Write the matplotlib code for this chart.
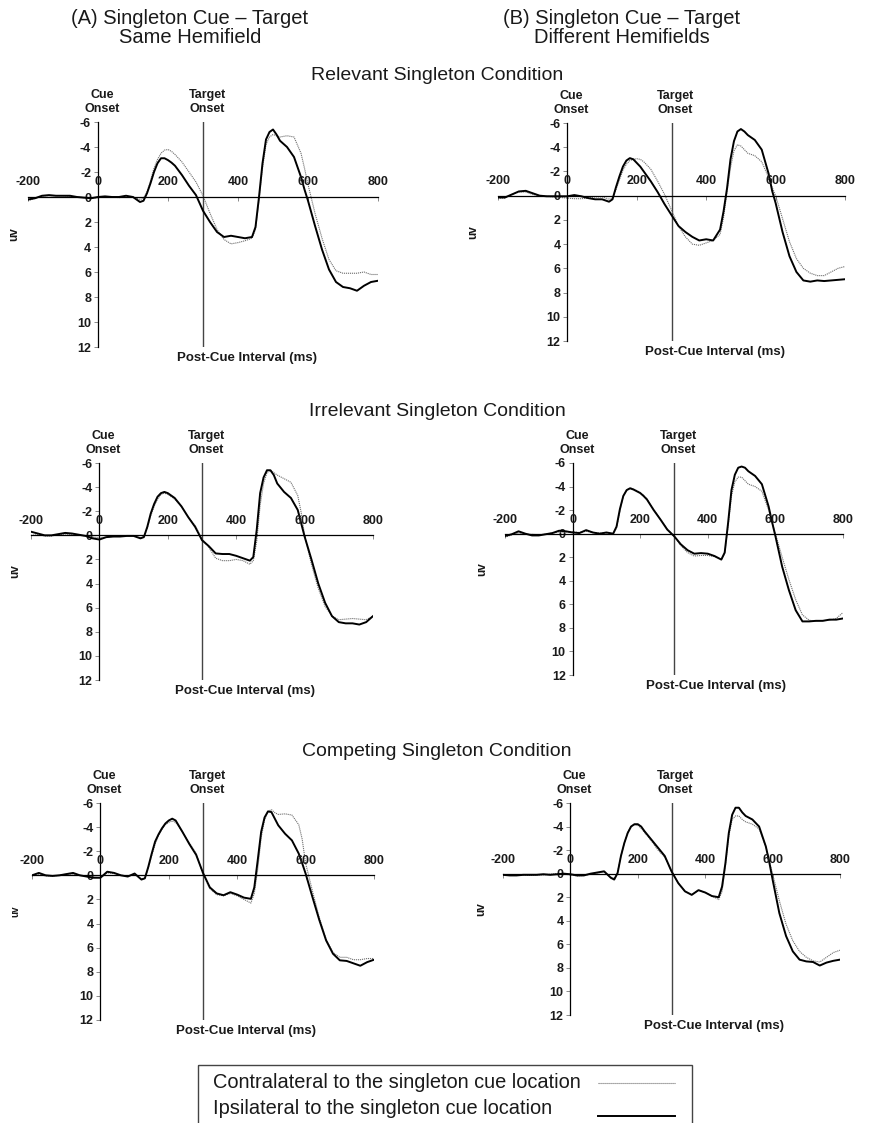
import matplotlib
matplotlib.use("Agg")
import matplotlib.pyplot as plt
from matplotlib.patches import Rectangle
from matplotlib.lines import Line2D

plt.rcParams['font.family'] = ['Liberation Sans', 'DejaVu Sans']
plt.rcParams['axes.unicode_minus'] = False

# time points (ms) shared by all waveforms
t_ms = [-200, -180, -160, -140, -120, -100, -80, -60, -40, -20, 0, 20, 40, 60, 80, 100,
        120, 130, 140, 150, 160, 170, 180, 190, 200, 210, 220, 240, 260, 280, 300, 320,
        340, 360, 380, 400, 420, 440, 450, 460, 470, 480, 490, 500, 510, 520, 540, 560,
        580, 590, 600, 620, 640, 660, 680, 700, 720, 740, 760, 780, 800]

# (A) same hemifield / (B) different hemifields; 1 relevant, 2 irrelevant, 3 competing
a1_ipsi = [0.2, 0.1, -0.1, -0.15, -0.1, -0.1, -0.1, 0.0, 0.05, 0.1, 0.0, -0.05, 0.0, 0.0, -0.1, 0.0,
           0.4, 0.3, -0.3, -1.1, -2.0, -2.7, -3.1, -3.1, -2.95, -2.75, -2.5, -1.75, -0.9, -0.15, 1.1, 2.0,
           2.8, 3.2, 3.1, 3.2, 3.3, 3.2, 2.4, 0.0, -2.7, -4.6, -5.2, -5.4, -5.0, -4.5, -4.0, -3.2,
           -1.6, -0.6, 0.3, 2.3, 4.2, 5.8, 6.8, 7.2, 7.3, 7.5, 7.1, 6.8, 6.7]
a1_contra = [0.3, 0.1, -0.05, -0.1, -0.1, -0.1, -0.05, 0.0, 0.05, 0.1, 0.05, 0.0, 0.0, 0.05, 0.0, 0.0,
             0.2, 0.1, -0.4, -1.3, -2.3, -3.0, -3.5, -3.75, -3.8, -3.65, -3.4, -2.8, -2.0, -1.2, -0.1, 1.3,
             2.6, 3.4, 3.75, 3.65, 3.5, 3.3, 2.6, 0.3, -2.3, -4.2, -4.8, -5.0, -4.9, -4.8, -4.9, -4.8,
             -3.5, -2.3, -1.0, 1.3, 3.3, 5.0, 5.9, 6.1, 6.1, 6.1, 6.0, 6.2, 6.2]
b1_ipsi = [0.15, 0.15, -0.1, -0.35, -0.4, -0.2, 0.0, 0.05, 0.05, 0.05, 0.05, -0.05, 0.05, 0.2, 0.3, 0.3,
           0.5, 0.3, -0.7, -1.6, -2.4, -2.9, -3.1, -3.0, -2.7, -2.4, -2.0, -1.2, -0.3, 0.7, 1.6, 2.5,
           3.0, 3.4, 3.7, 3.6, 3.7, 2.8, 1.3, -0.6, -3.0, -4.5, -5.3, -5.5, -5.3, -5.0, -4.6, -3.8,
           -1.8, -0.4, 0.6, 3.0, 5.0, 6.3, 7.0, 7.1, 7.0, 7.05, 7.0, 6.95, 6.9]
b1_contra = [0.2, 0.2, -0.1, -0.3, -0.3, -0.1, 0.0, 0.05, 0.1, 0.15, 0.2, 0.25, 0.25, 0.2, 0.1, 0.1,
             0.3, 0.2, -0.5, -1.3, -2.1, -2.6, -2.9, -3.0, -3.05, -3.0, -2.8, -2.2, -1.2, -0.1, 1.2, 2.5,
             3.4, 4.0, 4.1, 3.9, 3.7, 3.2, 1.8, -0.3, -2.3, -3.7, -4.2, -4.1, -3.8, -3.5, -3.3, -2.8,
             -1.5, -0.7, 0.0, 1.9, 3.8, 5.2, 6.0, 6.4, 6.6, 6.6, 6.3, 6.0, 5.85]
a2_ipsi = [-0.3, -0.15, 0.0, 0.0, -0.1, -0.2, -0.15, -0.05, 0.05, 0.25, 0.35, 0.15, 0.1, 0.1, 0.05, 0.05,
           0.25, 0.15, -0.7, -1.8, -2.6, -3.2, -3.5, -3.6, -3.5, -3.3, -3.1, -2.4, -1.5, -0.7, 0.4, 0.9,
           1.5, 1.55, 1.55, 1.7, 1.9, 2.1, 1.8, -0.45, -3.5, -4.8, -5.4, -5.4, -5.0, -4.3, -3.6, -3.1,
           -2.1, -1.0, 0.1, 2.0, 4.0, 5.6, 6.7, 7.2, 7.3, 7.3, 7.4, 7.2, 6.7]
a2_contra = [0.0, -0.05, 0.05, 0.05, -0.05, -0.1, -0.05, 0.0, 0.05, 0.15, 0.2, 0.15, 0.1, 0.05, 0.05, 0.05,
             0.2, 0.1, -0.6, -1.6, -2.4, -3.0, -3.4, -3.5, -3.4, -3.2, -3.0, -2.4, -1.5, -0.8, 0.3, 1.0,
             1.9, 2.1, 2.1, 2.0, 2.1, 2.4, 2.1, 0.5, -2.5, -4.3, -5.2, -5.4, -5.2, -5.0, -4.7, -4.4,
             -3.3, -1.9, 0.0, 2.4, 4.4, 5.9, 6.7, 7.0, 6.95, 6.9, 6.95, 7.0, 6.7]
b2_ipsi = [0.2, 0.05, -0.2, 0.0, 0.15, 0.15, 0.05, -0.05, -0.25, -0.2, -0.1, -0.05, -0.3, -0.1, 0.0, -0.1,
           0.0, -0.6, -2.1, -3.2, -3.7, -3.85, -3.75, -3.6, -3.45, -3.2, -2.9, -2.0, -1.2, -0.35, 0.2, 0.9,
           1.4, 1.7, 1.65, 1.7, 1.9, 2.2, 1.6, -0.9, -3.7, -5.0, -5.6, -5.7, -5.6, -5.3, -4.9, -4.2,
           -2.3, -1.0, 0.2, 2.8, 4.8, 6.5, 7.45, 7.45, 7.4, 7.4, 7.3, 7.3, 7.2]
b2_contra = [0.3, 0.1, -0.05, 0.05, 0.05, 0.1, 0.05, -0.05, -0.15, -0.15, -0.15, -0.1, -0.2, -0.1, -0.05, -0.05,
             0.0, -0.5, -1.9, -3.2, -3.7, -3.9, -3.8, -3.65, -3.5, -3.25, -2.95, -2.05, -1.2, -0.4, 0.2, 1.0,
             1.6, 1.9, 1.85, 1.85, 1.95, 2.2, 1.7, -0.6, -3.2, -4.4, -4.8, -4.8, -4.5, -4.2, -4.0, -3.6,
             -2.0, -1.0, 0.0, 2.0, 3.9, 5.6, 6.9, 7.35, 7.45, 7.4, 7.35, 7.2, 6.7]
a3_ipsi = [0.0, -0.2, 0.0, 0.05, 0.0, -0.1, -0.2, 0.0, 0.1, 0.2, 0.2, -0.3, -0.2, 0.0, 0.1, -0.15,
           0.35, 0.25, -0.7, -1.8, -2.8, -3.4, -3.9, -4.3, -4.55, -4.7, -4.55, -3.6, -2.6, -1.7, -0.2, 1.0,
           1.5, 1.65, 1.4, 1.6, 1.85, 1.95, 1.0, -1.25, -3.6, -4.8, -5.3, -5.25, -4.7, -4.15, -3.45, -2.9,
           -1.8, -1.0, -0.15, 1.8, 3.7, 5.4, 6.5, 7.05, 7.1, 7.3, 7.5, 7.2, 7.0]
a3_contra = [0.05, -0.05, 0.05, 0.05, 0.0, -0.1, -0.1, 0.0, 0.05, 0.15, 0.2, -0.2, -0.15, 0.0, 0.05, -0.05,
             0.3, 0.2, -0.6, -1.6, -2.6, -3.3, -3.8, -4.2, -4.4, -4.5, -4.4, -3.6, -2.7, -1.8, -0.1, 1.1,
             1.6, 1.7, 1.5, 1.7, 2.0, 2.3, 1.5, -0.5, -3.1, -4.6, -5.3, -5.45, -5.2, -5.05, -5.1, -5.0,
             -4.2, -3.0, -1.0, 1.3, 3.5, 5.3, 6.4, 6.8, 6.8, 7.0, 7.0, 6.9, 6.9]
b3_ipsi = [0.1, 0.15, 0.15, 0.1, 0.1, 0.1, 0.05, 0.1, 0.05, 0.0, 0.05, 0.15, 0.15, 0.0, -0.1, -0.2,
           0.35, 0.5, -0.05, -1.5, -2.6, -3.45, -4.0, -4.2, -4.2, -4.0, -3.6, -2.9, -2.2, -1.5, -0.2, 0.8,
           1.5, 1.8, 1.4, 1.6, 1.9, 2.0, 1.1, -0.9, -3.45, -5.0, -5.6, -5.6, -5.2, -4.9, -4.6, -4.0,
           -2.3, -1.0, 0.5, 3.35, 5.3, 6.6, 7.3, 7.45, 7.5, 7.8, 7.55, 7.4, 7.3]
b3_contra = [0.15, 0.15, 0.1, 0.1, 0.15, 0.1, 0.1, 0.05, 0.0, 0.05, 0.1, 0.2, 0.15, 0.05, -0.05, -0.15,
             0.3, 0.4, -0.1, -1.5, -2.6, -3.5, -4.05, -4.15, -4.1, -3.85, -3.5, -2.8, -2.0, -1.4, -0.2, 0.8,
             1.5, 1.8, 1.4, 1.6, 1.9, 2.2, 1.5, -0.6, -3.2, -4.6, -4.9, -4.9, -4.6, -4.4, -4.2, -3.8,
             -2.3, -1.1, 0.0, 2.3, 4.3, 5.7, 6.6, 7.1, 7.4, 7.5, 7.1, 6.7, 6.5]

x_ticks = [-200, 0, 200, 400, 600, 800]
y_ticks = [-6, -4, -2, 0, 2, 4, 6, 8, 10, 12]
col_titles = ["(A) Singleton Cue \u2013 Target\nSame Hemifield",
              "(B) Singleton Cue \u2013 Target\nDifferent Hemifields"]
row_titles = ["Relevant Singleton Condition", "Irrelevant Singleton Condition",
              "Competing Singleton Condition"]
legend_labels = ["Contralateral to the singleton cue location",
                 "Ipsilateral to the singleton cue location"]

W, H = 871, 1123
fig = plt.figure(figsize=(W / 100, H / 100), dpi=100)

# pixel boxes: x(-200), x(800), y(-6), y(12)
boxes = [(28, 378, 122, 347), (498, 845, 123, 341),
         (31, 373, 463, 680), (505, 843, 463, 675),
         (32, 374, 803, 1020), (503, 840, 803, 1015)]
uv_x = [-240, -270, -245, -266, -248, -264]
panels = [(a1_contra, a1_ipsi), (b1_contra, b1_ipsi),
          (a2_contra, a2_ipsi), (b2_contra, b2_ipsi),
          (a3_contra, a3_ipsi), (b3_contra, b3_ipsi)]

contra_style = dict(color='#6e6e6e', lw=0.8, ls=(0, (1, 0.8)))
ipsi_style = dict(color='black', lw=1.4)

for i, (box, (contra, ipsi)) in enumerate(zip(boxes, panels)):
    x0, x1, y0, y1 = box
    ax = fig.add_axes([x0 / W, 1 - y1 / H, (x1 - x0) / W, (y1 - y0) / H])
    ax.set_xlim(-200, 800)
    ax.set_ylim(12, -6)
    ax.patch.set_visible(False)
    for s in ['top', 'right']:
        ax.spines[s].set_visible(False)
    ax.spines['left'].set_position(('data', 0))
    ax.spines['bottom'].set_position(('data', 0))
    ax.spines['left'].set_linewidth(0.9)
    ax.spines['bottom'].set_linewidth(0.9)
    ax.set_xticks(x_ticks)
    ax.set_yticks(y_ticks)
    ax.tick_params(axis='x', length=3, width=0.6, color='#777777', labelbottom=False)
    ax.tick_params(axis='y', length=3, width=0.6, color='#777777', pad=2,
                   labelsize=9, labelcolor='#1a1a1a')
    for lab in ax.get_yticklabels():
        lab.set_fontweight('bold')
    for xt in x_ticks:
        ax.text(xt, -1.2, str(xt), ha='center', va='center', fontsize=9,
                fontweight='bold', color='#1a1a1a')

    ax.axvline(300, color='#444444', lw=1.0)
    ax.plot(t_ms, contra, **contra_style)
    ax.plot(t_ms, ipsi, **ipsi_style)

    for xo, txt in [(0, 'Cue\nOnset'), (300, 'Target\nOnset')]:
        ax.annotate(txt, xy=(xo, -6), xytext=(3, 5), textcoords='offset points',
                    ha='center', va='bottom', fontsize=9, fontweight='bold',
                    linespacing=1.2, color='#1a1a1a')
    ax.text(uv_x[i], 3.0, 'uv', rotation=90, ha='center', va='center',
            fontsize=8.5 if i != 4 else 7, fontweight='bold', color='#1a1a1a')
    ax.text(425, 12.9, 'Post-Cue Interval (ms)', ha='center', va='center',
            fontsize=9.5, fontweight='bold', color='#1a1a1a')

fig.text(190 / W, 1 - 28 / H, col_titles[0], ha='center', va='center',
         fontsize=14.5, linespacing=1.0, color='#1a1a1a')
fig.text(622 / W, 1 - 28 / H, col_titles[1], ha='center', va='center',
         fontsize=14.5, linespacing=1.0, color='#1a1a1a')
for y, title in zip([75, 412, 752], row_titles):
    fig.text(437 / W, 1 - y / H, title, ha='center', va='center',
             fontsize=14, color='#1a1a1a')

# legend box: text on the left, line samples on the right (pixel coordinates)
lax = fig.add_axes([0, 0, 1, 1])
lax.set_xlim(0, W)
lax.set_ylim(H, 0)
lax.axis('off')
lax.add_patch(Rectangle((198, 1065), 494, 80, fill=False, edgecolor='#444444', lw=1.0))
for y, label, style in [(1083, legend_labels[0], contra_style),
                        (1108, legend_labels[1], ipsi_style)]:
    lax.text(213, y, label, ha='left', va='center', fontsize=14.4, color='#1a1a1a')
    lax.add_line(Line2D([598, 675], [y, y] if style is contra_style else [y + 8, y + 8], **style))

fig.savefig('out.png', dpi=100)
